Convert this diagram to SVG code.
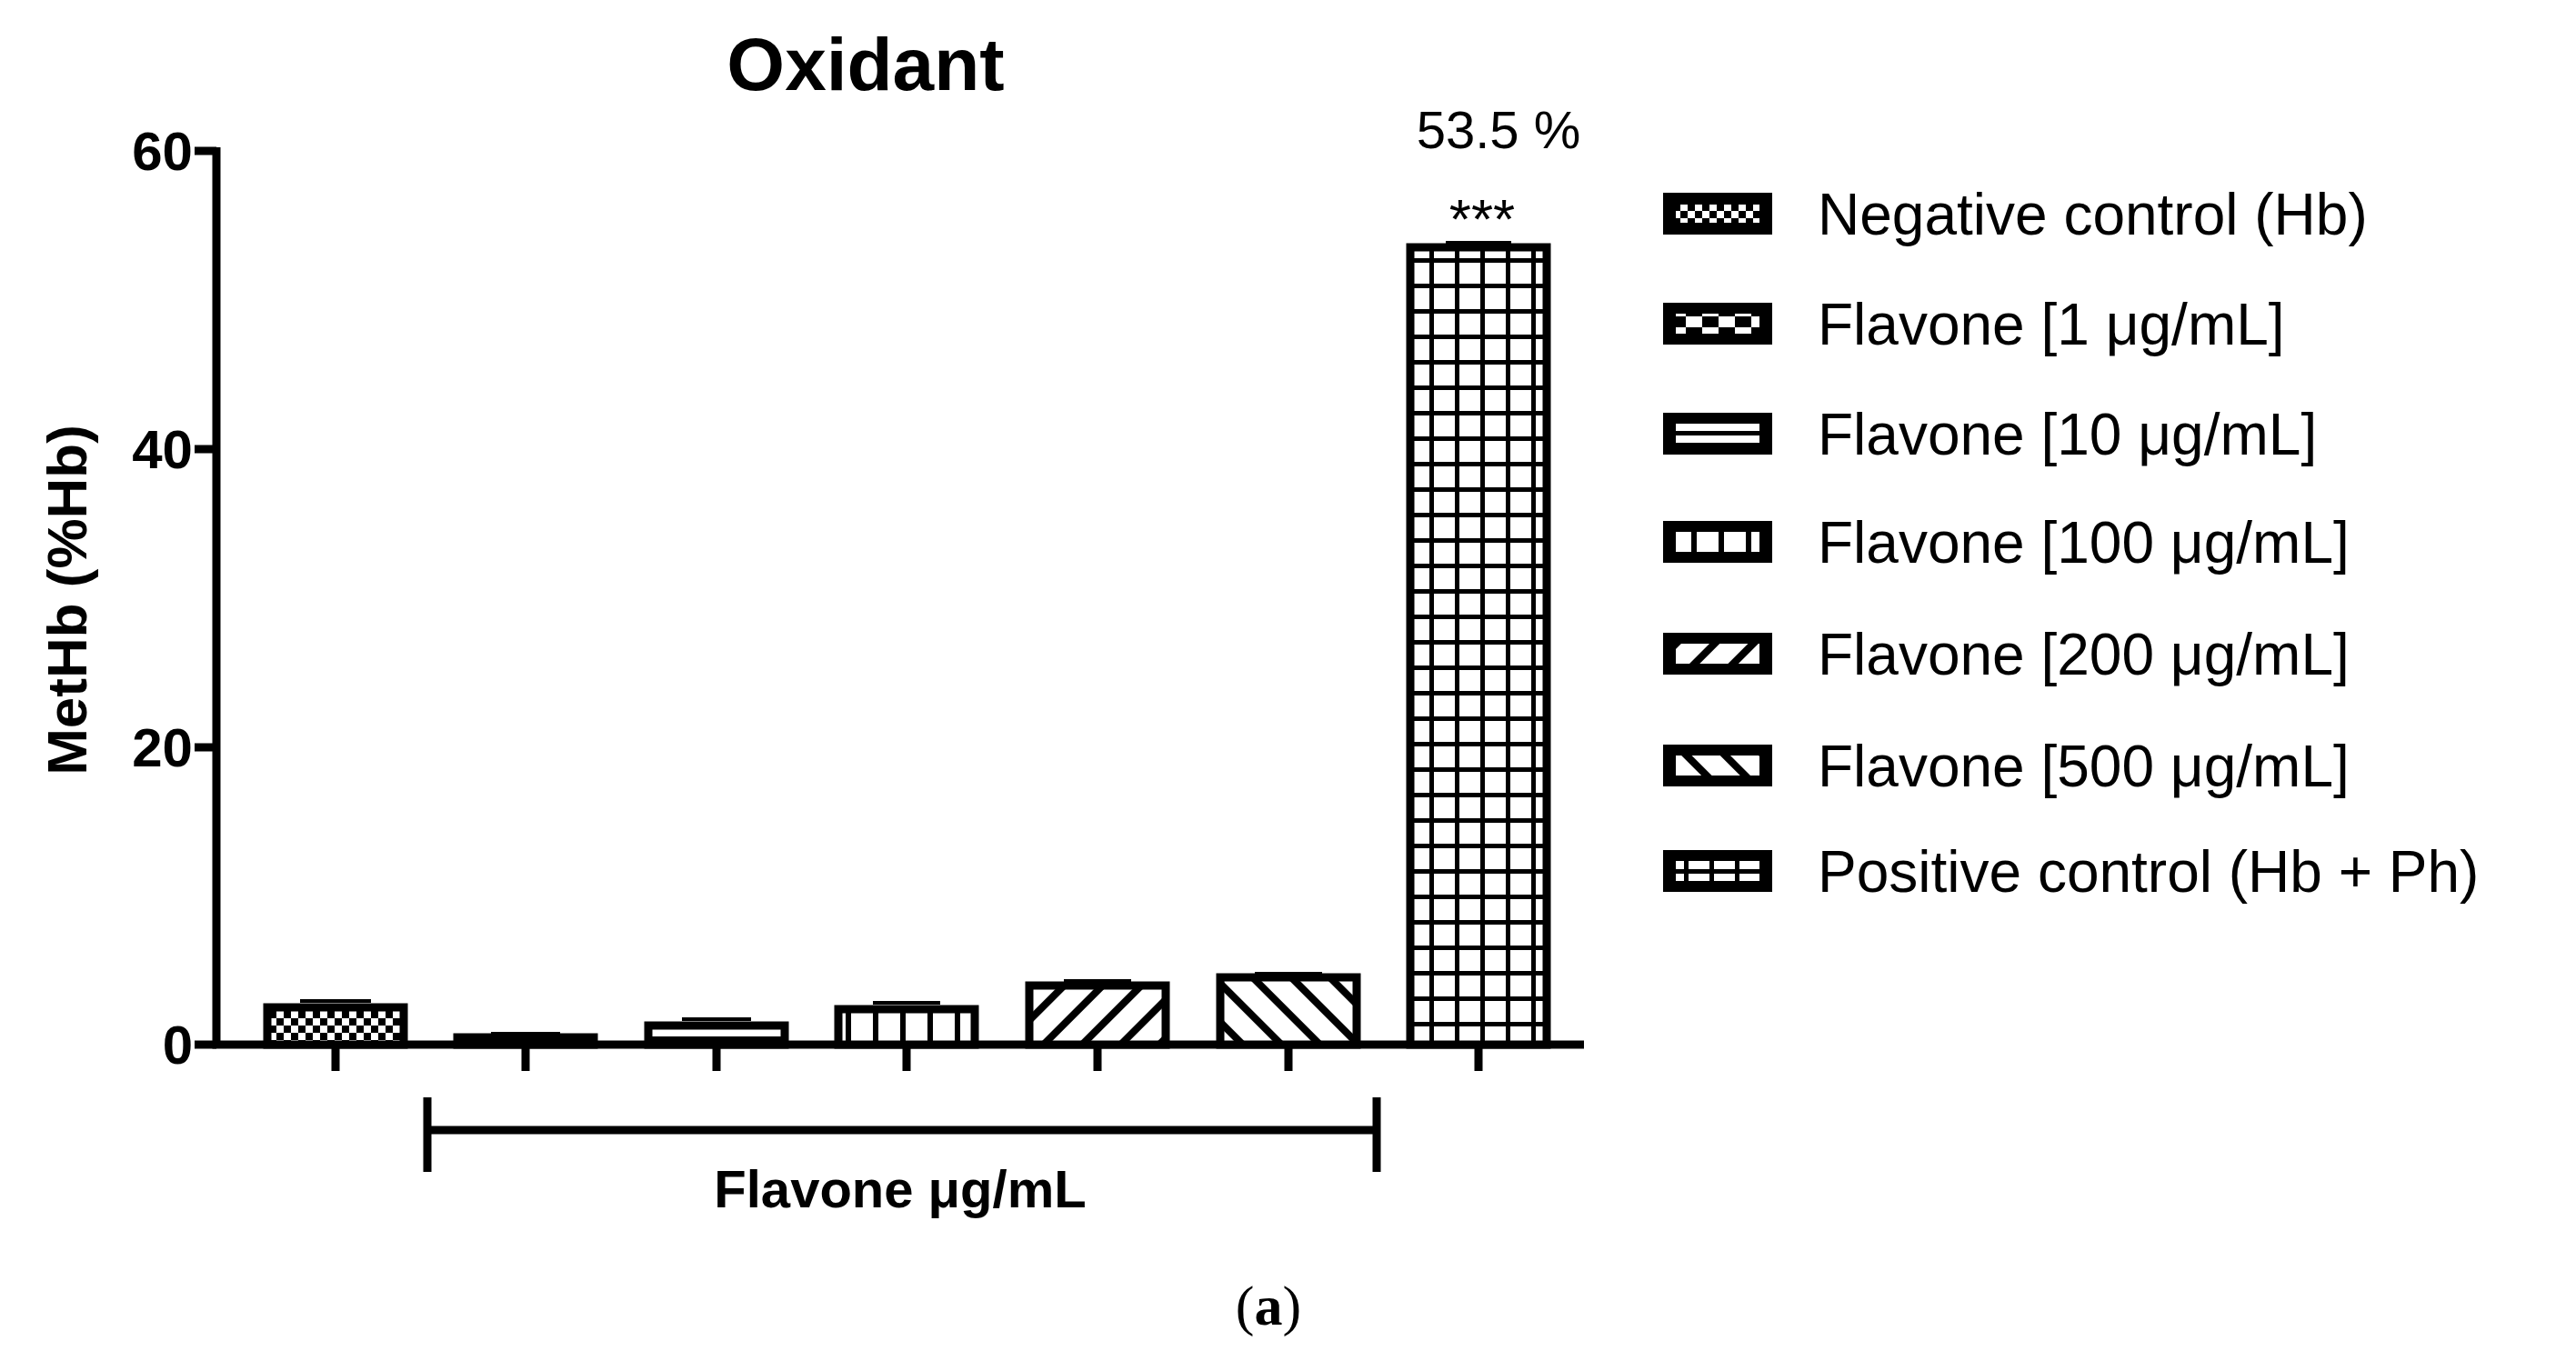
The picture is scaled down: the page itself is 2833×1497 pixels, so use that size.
<svg xmlns="http://www.w3.org/2000/svg" width="2833" height="1497" viewBox="0 0 2833 1497">
<defs>
<pattern id="pChk" patternUnits="userSpaceOnUse" width="16" height="16"><rect width="16" height="16" fill="#fff"/><rect width="8" height="8" fill="#000"/><rect x="8" y="8" width="8" height="8" fill="#000"/></pattern>
<pattern id="pChk2" patternUnits="userSpaceOnUse" width="36" height="24"><rect width="36" height="24" fill="#000"/><rect width="18" height="12" fill="#fff"/><rect x="18" y="12" width="18" height="12" fill="#fff"/></pattern>
<pattern id="pHor" patternUnits="userSpaceOnUse" width="20" height="20"><rect width="20" height="20" fill="#fff"/><rect y="0" width="20" height="6" fill="#000"/></pattern>
<pattern id="pVer" patternUnits="userSpaceOnUse" width="30" height="20"><rect width="30" height="20" fill="#fff"/><rect width="6" height="20" fill="#000"/></pattern>
<pattern id="pDia1" patternUnits="userSpaceOnUse" width="30" height="30" patternTransform="rotate(45)"><rect width="30" height="30" fill="#fff"/><rect width="8" height="30" fill="#000"/></pattern>
<pattern id="pDia2" patternUnits="userSpaceOnUse" width="30" height="30" patternTransform="rotate(-45)"><rect width="30" height="30" fill="#fff"/><rect width="8" height="30" fill="#000"/></pattern>
<pattern id="pGrid" patternUnits="userSpaceOnUse" width="28" height="28" x="4" y="4"><rect width="28" height="28" fill="#fff"/><rect width="5" height="28" fill="#000"/><rect width="28" height="5" fill="#000"/></pattern>
</defs>
<style>
.b{font-family:"Liberation Sans",Arial,sans-serif;font-weight:bold;fill:#000}
.r{font-family:"Liberation Sans",Arial,sans-serif;fill:#000}
.bar{stroke:#000;stroke-width:9}
.ax{stroke:#000;stroke-width:9;fill:none}
.lt{font-family:"Liberation Sans",Arial,sans-serif;font-size:64px;fill:#000}
</style>
<rect width="2833" height="1497" fill="#fff"/>
<text class="b" x="952" y="99" font-size="82" text-anchor="middle">Oxidant</text>
<g id="axes">
<path class="ax" d="M238 162 V1149 H1742"/>
<path class="ax" d="M214 166 H238 M214 494 H238 M214 822 H238 M214 1149 H238"/>
<text class="b" font-size="60" text-anchor="end" x="212" y="187">60</text>
<text class="b" font-size="60" text-anchor="end" x="212" y="515">40</text>
<text class="b" font-size="60" text-anchor="end" x="212" y="843">20</text>
<text class="b" font-size="60" text-anchor="end" x="212" y="1170">0</text>
<text class="b" font-size="62" text-anchor="middle" transform="translate(95 660) rotate(-90)">MetHb (%Hb)</text>
<path class="ax" d="M369 1149 V1178 M578 1149 V1178 M788 1149 V1178 M997 1149 V1178 M1207 1149 V1178 M1417 1149 V1178 M1626 1149 V1178"/>
</g>
<g id="bars">
<rect class="bar" x="294" y="1108" width="150" height="41" fill="url(#pChk)"/>
<rect class="bar" x="503" y="1141" width="150" height="8" fill="url(#pChk2)"/>
<rect class="bar" x="713" y="1128" width="150" height="21" fill="url(#pHor)"/>
<rect class="bar" x="922" y="1110" width="150" height="39" fill="url(#pVer)"/>
<rect class="bar" x="1132" y="1084" width="150" height="65" fill="url(#pDia1)"/>
<rect class="bar" x="1342" y="1075" width="150" height="74" fill="url(#pDia2)"/>
<rect class="bar" x="1551" y="272" width="150" height="877" fill="url(#pGrid)"/>
<path stroke="#000" stroke-width="4" d="M330 1101 H408 M540 1137 H616 M750 1121 H826 M960 1103 H1034 M1170 1079 H1244 M1380 1071 H1454 M1590 267 H1662"/>
</g>
<text class="r" x="1648" y="163" font-size="58" text-anchor="middle">53.5 %</text>
<text class="r" x="1630" y="262" font-size="62" text-anchor="middle">***</text>
<g id="bracket">
<path class="ax" d="M470 1243 H1514 M470 1207 V1289 M1514 1207 V1289"/>
<text class="b" x="990" y="1328" font-size="58" text-anchor="middle">Flavone μg/mL</text>
</g>
<text x="1395" y="1457" font-family="Liberation Serif,serif" font-size="62" text-anchor="middle">(<tspan font-weight="bold">a</tspan>)</text>
<g id="legend">
<rect x="1829" y="212" width="120" height="46" fill="#000"/><rect x="1843" y="225" width="92" height="20" fill="url(#pChk)"/>
<text class="lt" x="1999" y="258">Negative control (Hb)</text>
<rect x="1829" y="333" width="120" height="46" fill="#000"/><rect x="1843" y="345" width="92" height="22" fill="url(#pChk2)"/>
<text class="lt" x="1999" y="379">Flavone [1 μg/mL]</text>
<rect x="1829" y="454" width="120" height="46" fill="#000"/><rect x="1843" y="466" width="92" height="8" fill="#fff"/><rect x="1843" y="479" width="92" height="8" fill="#fff"/>
<text class="lt" x="1999" y="500">Flavone [10 μg/mL]</text>
<rect x="1829" y="573" width="120" height="46" fill="#000"/><rect x="1843" y="585" width="92" height="22" fill="url(#pVer)"/>
<text class="lt" x="1999" y="619">Flavone [100 μg/mL]</text>
<rect x="1829" y="696" width="120" height="46" fill="#000"/><rect x="1843" y="708" width="92" height="22" fill="url(#pDia1)"/>
<text class="lt" x="1999" y="742">Flavone [200 μg/mL]</text>
<rect x="1829" y="819" width="120" height="46" fill="#000"/><rect x="1843" y="831" width="92" height="22" fill="url(#pDia2)"/>
<text class="lt" x="1999" y="865">Flavone [500 μg/mL]</text>
<rect x="1829" y="935" width="120" height="46" fill="#000"/><rect x="1843" y="947" width="92" height="22" fill="url(#pGrid)"/>
<text class="lt" x="1999" y="981">Positive control (Hb + Ph)</text>
</g>
</svg>
